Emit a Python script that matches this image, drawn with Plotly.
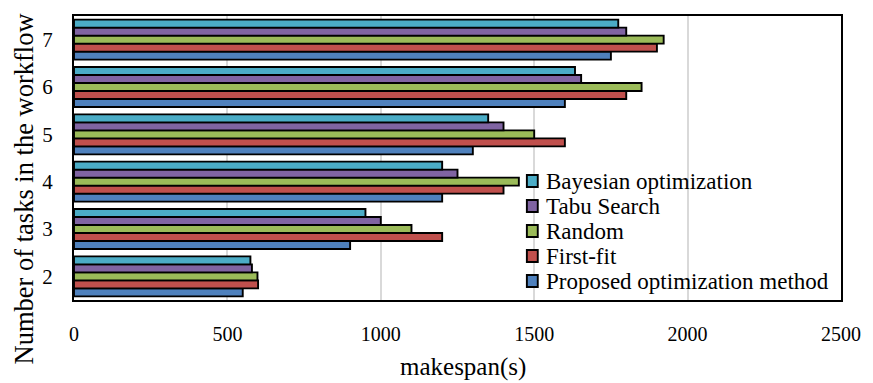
import plotly.graph_objects as go

# Number of tasks in the workflow (category axis)
tasks = ["2", "3", "4", "5", "6", "7"]

# Makespan (s) for each method, ordered by number of tasks
proposed = [550, 900, 1200, 1300, 1600, 1750]
first_fit = [600, 1200, 1400, 1600, 1800, 1900]
random_alloc = [598, 1100, 1450, 1500, 1850, 1922]
tabu_search = [580, 1000, 1250, 1400, 1653, 1800]
bayesian = [575, 950, 1200, 1350, 1633, 1774]

series_names = ["Proposed optimization method", "First-fit", "Random",
                "Tabu Search", "Bayesian optimization"]
series_values = [proposed, first_fit, random_alloc, tabu_search, bayesian]
series_colors = ["#4F81BD", "#C0504D", "#9BBB59", "#8064A2", "#4BACC6"]

FONT = "Liberation Serif, Times New Roman, serif"
W, H = 873, 383
ML, MR, MT, MB = 74, 25, 16, 83
PW, PH = W - ML - MR, H - MT - MB


def px_to_paper(xp, yp):
    return (xp - ML) / PW, (MT + PH - yp) / PH


fig = go.Figure()
for name, vals, col in zip(series_names, series_values, series_colors):
    fig.add_trace(go.Bar(
        y=tasks, x=vals, name=name, orientation="h",
        marker=dict(color=col, line=dict(color="#000000", width=1.9)),
        showlegend=False,
    ))

# Legend drawn as swatches + labels, top entry first
legend_left_px = 531
legend_top_px = 181
legend_step_px = 25
shapes = []
annotations = []
for i, (name, col) in enumerate(zip(reversed(series_names), reversed(series_colors))):
    cy = legend_top_px + i * legend_step_px
    x0, y0 = px_to_paper(legend_left_px, cy + 6)
    x1, y1 = px_to_paper(legend_left_px + 11, cy - 6)
    shapes.append(dict(type="rect", xref="paper", yref="paper",
                       x0=x0, x1=x1, y0=y0, y1=y1,
                       fillcolor=col, line=dict(color="#000000", width=1.9)))
    tx, ty = px_to_paper(legend_left_px + 17, cy)
    annotations.append(dict(xref="paper", yref="paper", x=tx, y=ty,
                            xanchor="left", yanchor="middle",
                            text=name, showarrow=False,
                            font=dict(family=FONT, size=23, color="#000000")))

# Axis titles
xt_x, xt_y = px_to_paper(467, 367)
annotations.append(dict(xref="paper", yref="paper", x=xt_x, y=xt_y,
                        xanchor="center", yanchor="middle",
                        text="makespan(s)", showarrow=False,
                        font=dict(family=FONT, size=25, color="#000000")))
yt_x, yt_y = px_to_paper(24, 188)
annotations.append(dict(xref="paper", yref="paper", x=yt_x, y=yt_y,
                        xanchor="center", yanchor="middle", textangle=-90,
                        text="Number of tasks in the workflow", showarrow=False,
                        font=dict(family=FONT, size=26.5, color="#000000")))

fig.update_layout(
    width=W, height=H,
    margin=dict(l=ML, r=MR, t=MT, b=MB),
    paper_bgcolor="white", plot_bgcolor="white",
    barmode="group", bargap=0.155, bargroupgap=0,
    font=dict(family=FONT, color="#000000"),
    shapes=shapes, annotations=annotations,
    showlegend=False,
)
fig.update_xaxes(
    range=[0, 2500], dtick=500, tick0=0,
    showgrid=True, gridcolor="#D9D9D9", gridwidth=1.5,
    showline=True, linecolor="#000000", linewidth=2, mirror=True,
    zeroline=False,
    tickfont=dict(family=FONT, size=20, color="#000000"),
    ticklabelstandoff=15,
)
fig.update_yaxes(
    type="category", categoryorder="array", categoryarray=tasks,
    showgrid=False,
    showline=True, linecolor="#000000", linewidth=2, mirror=True,
    tickfont=dict(family=FONT, size=21, color="#000000"),
    ticklabelstandoff=15,
)

fig.write_html("out.html")
